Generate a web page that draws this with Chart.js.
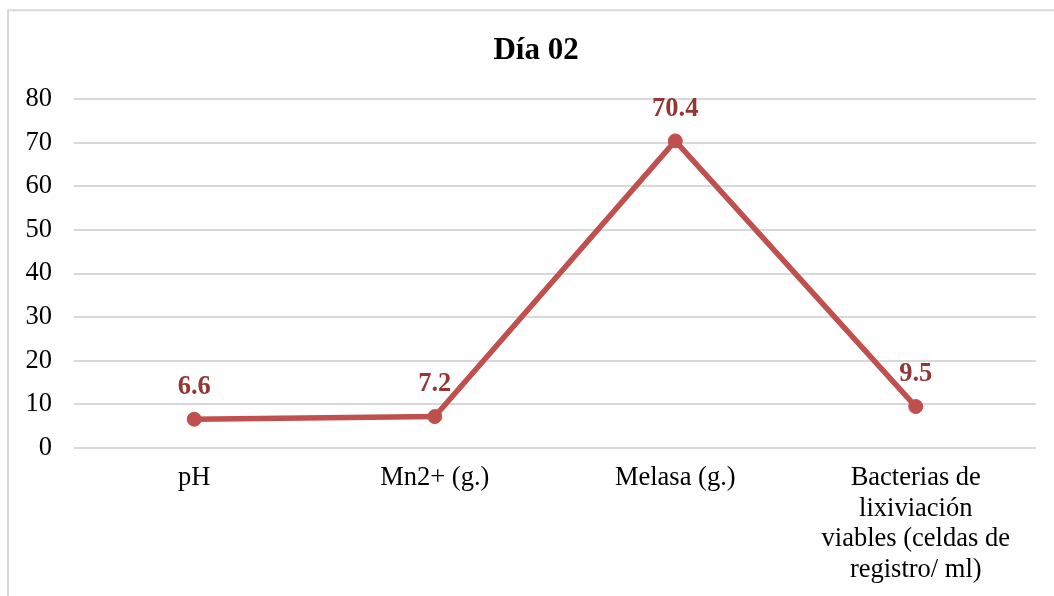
<!DOCTYPE html>
<html>
<head>
<meta charset="utf-8">
<title>Día 02</title>
<script src="https://cdn.jsdelivr.net/npm/chart.js@4/dist/chart.umd.min.js"></script>
<style>
  html, body { margin: 0; padding: 0; background: #ffffff; overflow: hidden; }
  canvas { display: block; }
</style>
</head>
<body>
<canvas id="chart" width="1054" height="596"></canvas>
<script>
// Categories (multi-line labels are arrays of lines)
const categories = [
  'pH',
  'Mn2+ (g.)',
  'Melasa (g.)',
  ['Bacterias de', 'lixiviación', 'viables (celdas de', 'registro/ ml)']
];

// Measured values for day 02
const values = [6.6, 7.2, 70.4, 9.5];

// Y axis range and step
const yMin = 0;
const yMax = 80;
const yStep = 10;

const chartTitle = 'Día 02';

const SERIF = '"Liberation Serif", "Times New Roman", serif';
const LINE_COLOR = '#c0504d';
const LABEL_COLOR = '#943634';

// Light frame around the chart, plus the centred title
const framePlugin = {
  id: 'frame',
  beforeDraw(chart) {
    const ctx = chart.ctx;
    ctx.save();
    ctx.strokeStyle = '#d9d9d9';
    ctx.lineWidth = 2;
    ctx.beginPath();
    ctx.moveTo(8, chart.height + 5);
    ctx.lineTo(8, 10.3);
    ctx.lineTo(chart.width + 5, 10.3);
    ctx.stroke();

    ctx.font = 'bold 31px ' + SERIF;
    ctx.fillStyle = '#000000';
    ctx.textAlign = 'center';
    ctx.textBaseline = 'middle';
    ctx.fillText(chartTitle, 536, 51);
    ctx.restore();
  }
};

// Value labels above each point, placed through the data scales
const valueLabelPlugin = {
  id: 'valueLabels',
  beforeDatasetsDraw(chart) {
    const ctx = chart.ctx;
    const xScale = chart.scales.x;
    const yScale = chart.scales.y;
    ctx.save();
    ctx.font = 'bold 26.5px ' + SERIF;
    ctx.fillStyle = LABEL_COLOR;
    ctx.textAlign = 'center';
    ctx.textBaseline = 'middle';
    chart.data.datasets[0].data.forEach((v, i) => {
      const px = xScale.getPixelForValue(i);
      const py = yScale.getPixelForValue(v);
      ctx.fillText(String(v), px, py - 32);
    });
    ctx.restore();
  }
};

new Chart(document.getElementById('chart'), {
  type: 'line',
  data: {
    labels: categories,
    datasets: [{
      data: values,
      borderColor: LINE_COLOR,
      backgroundColor: LINE_COLOR,
      borderWidth: 5.5,
      pointRadius: 7,
      pointBorderWidth: 1,
      pointBackgroundColor: LINE_COLOR,
      pointBorderColor: LINE_COLOR,
      tension: 0,
      fill: false
    }]
  },
  plugins: [framePlugin, valueLabelPlugin],
  options: {
    responsive: false,
    animation: false,
    layout: { padding: { left: 8, right: 18, top: 99, bottom: 0 } },
    plugins: {
      legend: { display: false },
      tooltip: { enabled: false },
      title: { display: false }
    },
    scales: {
      x: {
        offset: true,
        grid: { display: false, drawTicks: false },
        border: { display: false },
        ticks: {
          color: '#000000',
          font: { family: SERIF, size: 26.5, lineHeight: 1.15 },
          padding: 15,
          maxRotation: 0,
          minRotation: 0,
          autoSkip: false
        },
        afterFit(scale) { scale.height = 148; }
      },
      y: {
        min: yMin,
        max: yMax,
        grid: { color: '#d9d9d9', lineWidth: 2, drawTicks: false },
        border: { display: false },
        ticks: {
          stepSize: yStep,
          color: '#000000',
          font: { family: SERIF, size: 26.5, lineHeight: 1.2 },
          padding: 22
        },
        afterFit(scale) { scale.width = 66; }
      }
    }
  }
});
</script>
</body>
</html>
